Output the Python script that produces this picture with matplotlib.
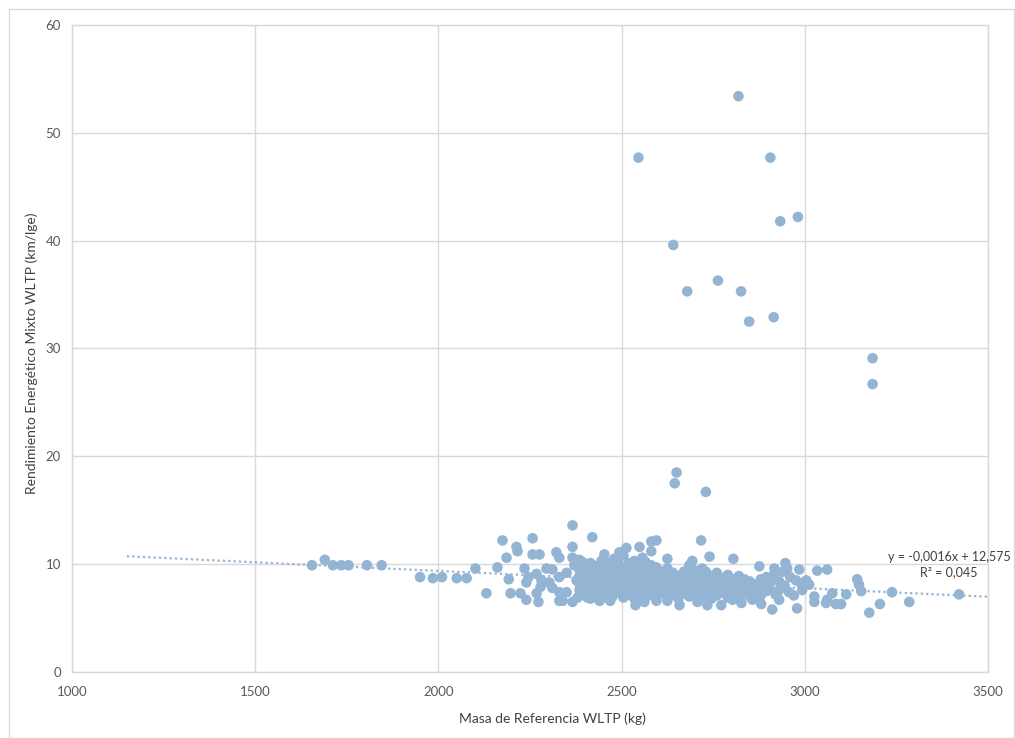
import matplotlib
matplotlib.use("Agg")
import matplotlib.pyplot as plt
from matplotlib.patches import Rectangle

plt.rcParams['font.family'] = ['Lato', 'DejaVu Sans']

# ---------------- data ----------------
# sparse left / edge points
mass_edge = [1655, 1690, 1712, 1735, 1755, 1805, 1845, 1950, 1985, 2010, 2050, 2077,
             2101, 2131, 2161, 2175, 2186, 2192, 2197, 2213, 2216, 2224, 2235, 2240,
             2240, 2246, 2257, 2257, 2268, 2268, 2273, 2276, 2279, 2281, 2295, 2303,
             2311, 2311, 2322, 2330, 2330, 2330, 2330, 2339, 2350, 2350, 2366, 2366,
             2366, 2366, 2371, 2377, 2380, 2385, 2390,
             2393, 2407, 2420, 2440, 2453, 2469, 2480, 2494, 2513, 2538, 2549, 2557,
             2562, 2581, 2595, 2581, 2595, 2625, 2625, 2658, 2685, 2693, 2707, 2717,
             2720, 2740, 2734,
             2772, 2805, 2803, 2827, 2857, 2876, 2876, 2881, 2895, 2903, 2911, 2917,
             2930, 2930, 2930, 2947, 2952, 2957, 2976, 2979, 2985, 2993, 3004, 3012,
             3026, 3026, 3034, 3058, 3061, 3061, 3075, 3085, 3099, 3113, 3143, 3148,
             3154, 3176, 3205, 3238, 3285, 3421,
             2905, 2920, 2945, 2960, 2970, 2990, 2915, 2940, 2888, 2897]
rend_edge = [9.9, 10.4, 9.9, 9.9, 9.9, 9.9, 9.9, 8.8, 8.7, 8.8, 8.7, 8.7,
             9.6, 7.3, 9.7, 12.2, 10.6, 8.6, 7.3, 11.6, 11.2, 7.3, 9.6, 8.3,
             6.7, 8.8, 12.4, 10.9, 9.1, 7.3, 6.5, 10.9, 7.9, 8.5, 9.6, 8.3,
             9.5, 7.8, 11.1, 10.6, 8.8, 7.4, 6.6, 6.6, 9.2, 7.4, 13.6, 11.6,
             10.6, 6.5, 9.9, 8.5, 6.9, 9.5, 9.0,
             10.2, 6.9, 12.5, 6.6, 10.9, 6.6, 10.5, 11.1, 11.5, 6.2, 11.6, 10.6,
             6.5, 12.1, 12.2, 11.2, 6.6, 10.5, 6.6, 6.2, 9.9, 10.3, 6.5, 12.2,
             9.6, 10.7, 6.2,
             6.2, 10.5, 6.7, 6.4, 6.7, 9.8, 7.0, 6.3, 8.8, 7.9, 5.8, 9.6,
             8.4, 7.6, 6.7, 10.1, 9.6, 7.4, 8.5, 5.9, 9.5, 7.6, 8.5, 8.1,
             7.0, 6.5, 9.4, 6.4, 9.5, 6.7, 7.3, 6.3, 6.3, 7.2, 8.6, 8.1,
             7.5, 5.5, 6.3, 7.4, 6.5, 7.2,
             8.3, 7.2, 8.0, 8.8, 7.1, 8.2, 9.0, 9.3, 7.6, 8.5]

# dense core of the cloud
mass_core = ([2385]*5 + [2400]*5 + [2415]*6 + [2430]*5 + [2445]*6 + [2460]*5 +
             [2475]*5 + [2490]*5 + [2505]*6 + [2520]*5 + [2535]*6 + [2550]*5 +
             [2565]*6 + [2580]*5 + [2595]*5 + [2610]*4 + [2625]*5 + [2640]*4 +
             [2655]*4 + [2670]*4 + [2685]*4 + [2700]*4 + [2715]*4 + [2730]*4 +
             [2745]*4 + [2760]*4 + [2775]*3 + [2790]*4 + [2805]*3 + [2820]*4 +
             [2835]*3 + [2850]*3 + [2865]*2 + [2880]*3 + [2895]*2)
rend_core = [7.6, 8.2, 8.9, 9.7, 10.4,
             7.1, 7.9, 8.6, 9.3, 10.0,
             6.8, 7.4, 8.1, 8.8, 9.5, 10.1,
             7.2, 7.9, 8.4, 9.1, 9.8,
             6.9, 7.6, 8.3, 8.9, 9.6, 10.3,
             7.3, 8.0, 8.7, 9.4, 10.1,
             7.0, 7.7, 8.5, 9.2, 9.8,
             7.4, 8.1, 8.8, 9.5, 10.4,
             6.9, 7.6, 8.3, 9.0, 9.7, 10.8,
             7.2, 7.9, 8.6, 9.3, 10.1,
             6.8, 7.5, 8.2, 8.9, 9.6, 10.3,
             7.1, 7.8, 8.5, 9.2, 9.9,
             6.9, 7.4, 8.1, 8.8, 9.5, 10.2,
             7.2, 7.9, 8.6, 9.3, 9.9,
             7.0, 7.7, 8.4, 9.0, 9.7,
             7.3, 8.0, 8.7, 9.3,
             6.9, 7.6, 8.3, 9.0, 9.6,
             7.2, 7.9, 8.5, 9.2,
             6.8, 7.5, 8.2, 8.9,
             7.3, 8.0, 8.6, 9.3,
             7.0, 7.7, 8.4, 9.0,
             7.4, 8.1, 8.7, 9.4,
             6.9, 7.6, 8.3, 9.0,
             7.2, 7.9, 8.6, 9.3,
             6.8, 7.5, 8.2, 8.9,
             7.1, 7.8, 8.5, 9.2,
             7.4, 8.0, 8.7,
             6.9, 7.6, 8.3, 9.0,
             7.2, 7.9, 8.6,
             6.8, 7.5, 8.2, 8.9,
             7.3, 8.0, 8.6,
             7.0, 7.7, 8.4,
             7.4, 8.1,
             7.1, 7.8, 8.6,
             7.5, 8.3]

# high-efficiency outliers
mass_out = [2546, 2819, 2906, 2981, 2933, 2641, 2679, 2763, 2826, 2848, 2915,
            3185, 3185, 2650, 2645, 2730]
rend_out = [47.7, 53.4, 47.7, 42.2, 41.8, 39.6, 35.3, 36.3, 35.3, 32.5, 32.9,
            29.1, 26.7, 18.5, 17.5, 16.7]

trend_slope = -0.0016
trend_intercept = 12.575
trend_x = [1150, 3500]
trend_label = "y = -0,0016x + 12,575\nR² = 0,045"

x_ticks = [1000, 1500, 2000, 2500, 3000, 3500]
y_ticks = [0, 10, 20, 30, 40, 50, 60]
x_label = "Masa de Referencia WLTP (kg)"
y_label = "Rendimiento Energético Mixto WLTP (km/lge)"

# ---------------- plot ----------------
W, H = 1015, 738
fig = plt.figure(figsize=(W / 100, H / 100), dpi=100)
fig.patch.set_facecolor('white')

# outer chart border
fig.add_artist(Rectangle((8.5 / W, 0), (1013.5 - 8.5) / W, 1 - 8.5 / H,
                         transform=fig.transFigure, fill=False,
                         edgecolor='#D9D9D9', linewidth=1.0))

ax = fig.add_axes([72 / W, 1 - 672 / H, (988 - 72) / W, (672 - 25) / H])
grid_c = '#D9D9D9'
for s in ax.spines.values():
    s.set_color(grid_c)
    s.set_linewidth(1.0)

ax.set_xlim(1000, 3500)
ax.set_ylim(0, 60)
ax.set_xticks(x_ticks)
ax.set_yticks(y_ticks)
ax.grid(True, color=grid_c, linewidth=1.0)
ax.set_axisbelow(True)
ax.tick_params(length=0, labelsize=9.5, colors='#595959', pad=8)
ax.tick_params(axis='x', pad=10)

col = '#94B4D4'
mx = mass_edge + mass_core + mass_out
ry = rend_edge + rend_core + rend_out
ax.scatter(mx, ry, s=58, color=col, edgecolors='none', zorder=3)

ty = [trend_slope * x + trend_intercept for x in trend_x]
ax.plot(trend_x, ty, linestyle=(0, (1, 1.4)), color=col, linewidth=1.6, zorder=4,
        clip_on=False)

ax.text(3394, 10.0, trend_label, ha='center', va='center', fontsize=9,
        color='#404040', linespacing=1.3, zorder=5, clip_on=False)

ax.set_xlabel(x_label, fontsize=10, color='#404040')
ax.xaxis.set_label_coords((552 - 72) / 916, -(712 - 672) / 647)
ax.set_ylabel(y_label, fontsize=10, color='#404040')
ax.yaxis.set_label_coords(-(72 - 38) / 916, (672 - 353) / 647)

fig.savefig('out.png', dpi=100, facecolor='white')
